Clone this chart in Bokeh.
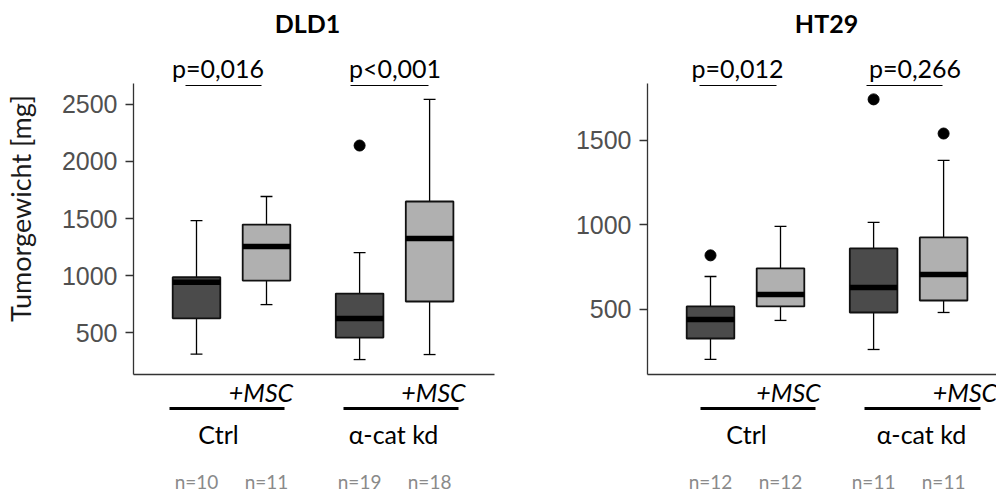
import math
from bokeh.plotting import figure
from bokeh.models import Range1d, FixedTicker, ColumnDataSource
from bokeh.core.properties import value
from bokeh.layouts import row
from bokeh.embed import file_html
from bokeh.resources import INLINE

# ---------------- data ----------------
groups = ["Ctrl", "Ctrl +MSC", "α-cat kd", "α-cat kd +MSC"]
group_names = ["Ctrl", "α-cat kd"]

dld1_lo = [310, 745, 263, 307]
dld1_q1 = [625, 956, 456, 772]
dld1_med = [940, 1254, 623, 1325]
dld1_q3 = [985, 1447, 842, 1649]
dld1_hi = [1482, 1693, 1200, 2544]
dld1_out_group = [2]
dld1_out_val = [2140]
dld1_n = [10, 11, 19, 18]
dld1_p = ["p=0,016", "p<0,001"]
dld1_ticks = [500, 1000, 1500, 2000, 2500]

ht29_lo = [204, 435, 263, 482]
ht29_q1 = [328, 518, 482, 553]
ht29_med = [441, 589, 630, 707]
ht29_q3 = [518, 743, 861, 926]
ht29_hi = [695, 991, 1015, 1382]
ht29_out_group = [0, 2, 3]
ht29_out_val = [820, 1743, 1541]
ht29_n = [12, 12, 11, 11]
ht29_p = ["p=0,012", "p=0,266"]
ht29_ticks = [500, 1000, 1500]

# ---------------- layout ----------------
positions = [1.0, 2.0, 3.33, 4.33]
fills = ["#4b4b4b", "#b0b0b0", "#4b4b4b", "#b0b0b0"]
BOX_W = 0.68
CAP_W = 0.17
UNIT_PX = 70.0
H = 497
FT, FB = 83, 374  # axis top / bottom in window px
FONT = "Lato"
X0 = 0.1
BASE_SHIFT = 0.4  # em correction for rendered alphabetic baseline


def make_panel(title, lo, q1, med, q3, hi, out_g, out_v, ns, pvals, ticks,
               ylo, yhi, canvas_left, width, axis_px, axis_end_px, lay,
               ylabel=None):
    mpp = (yhi - ylo) / (FB - FT)
    xs = X0 - (axis_px - canvas_left) / UNIT_PX
    xe = X0 + (canvas_left + width - axis_px) / UNIT_PX
    ys = ylo - (H - FB) * mpp
    ye = yhi + FT * mpp
    xd = lambda px: X0 + (px - axis_px) / UNIT_PX
    yd = lambda py: ylo + (FB - py) * mpp

    p = figure(width=width, height=H, x_range=Range1d(xs, xe),
               y_range=Range1d(ys, ye), output_backend="svg",
               toolbar_location=None, min_border=0,
               min_border_left=0, min_border_right=0,
               min_border_top=0, min_border_bottom=0)
    p.outline_line_color = None
    p.xgrid.grid_line_color = None
    p.ygrid.grid_line_color = None
    p.background_fill_color = "white"
    p.border_fill_color = "white"

    p.yaxis.fixed_location = X0
    p.yaxis.bounds = (ylo, yhi)
    p.yaxis.ticker = FixedTicker(ticks=ticks)
    p.yaxis.minor_tick_line_color = None
    p.yaxis.major_tick_in = 0
    p.yaxis.major_tick_out = 8
    p.yaxis.major_tick_line_color = "#333333"
    p.yaxis.major_tick_line_width = 1.3
    p.yaxis.axis_line_color = "#333333"
    p.yaxis.axis_line_width = 1.3
    p.yaxis.major_label_standoff = 8
    p.yaxis.major_label_text_font = "Liberation Sans"
    p.yaxis.major_label_text_font_size = "25px"
    p.yaxis.major_label_text_color = "#505050"

    p.xaxis.fixed_location = ylo
    p.xaxis.bounds = (X0, xd(axis_end_px))
    p.xaxis.ticker = FixedTicker(ticks=[])
    p.xaxis.minor_tick_line_color = None
    p.xaxis.major_tick_line_color = None
    p.xaxis.axis_line_color = "#333333"
    p.xaxis.axis_line_width = 1.3

    src = ColumnDataSource(dict(
        x=positions, lo=lo, q1=q1, med=med, q3=q3, hi=hi, fill=fills,
        left=[x - BOX_W / 2 for x in positions],
        right=[x + BOX_W / 2 for x in positions],
        cl=[x - CAP_W / 2 for x in positions],
        cr=[x + CAP_W / 2 for x in positions],
    ))
    # whiskers
    p.segment(x0="x", x1="x", y0="q3", y1="hi", source=src, line_color="black", line_width=1.3)
    p.segment(x0="x", x1="x", y0="q1", y1="lo", source=src, line_color="black", line_width=1.3)
    p.segment(x0="cl", x1="cr", y0="hi", y1="hi", source=src, line_color="black", line_width=1.3)
    p.segment(x0="cl", x1="cr", y0="lo", y1="lo", source=src, line_color="black", line_width=1.3)
    # boxes
    p.vbar(x="x", width=BOX_W, top="q3", bottom="q1", source=src,
           fill_color="fill", line_color="#111111", line_width=1.8)
    # medians
    p.segment(x0="left", x1="right", y0="med", y1="med", source=src,
              line_color="black", line_width=5.5)
    # outliers
    p.scatter(x=[positions[g] for g in out_g], y=out_v, size=11,
              fill_color="black", line_color="black")

    def txt(texts, pxs, py, size, color="black", style="normal",
            baseline="alphabetic", angle=0.0, xs_data=None):
        xv = xs_data if xs_data is not None else [xd(v) for v in pxs]
        if baseline == "alphabetic":
            py = py - BASE_SHIFT * size
        p.text(x=xv, y=[yd(py)] * len(texts), text=texts,
               text_align="center", text_baseline=baseline,
               text_font=value(FONT), text_font_size=value(f"{size}px"),
               text_color=color, text_font_style=style, angle=angle)

    def hlines(pairs, py, w):
        p.segment(x0=[xd(a) for a, b in pairs], x1=[xd(b) for a, b in pairs],
                  y0=[yd(py)] * len(pairs), y1=[yd(py)] * len(pairs),
                  line_color="black", line_width=w)

    txt([title], [lay["title"]], 32, 25, style="bold")
    txt(pvals, lay["ptext"], 77, 25)
    hlines(lay["pline"], 85, 1.2)
    txt(["+MSC", "+MSC"], lay["msc"], 401, 25, style="italic")
    hlines(lay["gline"], 408, 3)
    txt(group_names, lay["gname"], 443, 25)
    txt([f"n={n}" for n in ns], None, 489, 19, color="#8a8a8a",
        xs_data=positions)
    if ylabel:
        txt([ylabel], [20], 208, 27, color="#1a1a1a", baseline="middle",
            angle=math.pi / 2)
    return p


lay_left = dict(title=307, ptext=[217.5, 394.5], pline=[(185, 261), (350, 428)],
                msc=[260.5, 433], gline=[(169, 284), (343, 458)],
                gname=[218, 393])
lay_right = dict(title=826, ptext=[737, 914.5], pline=[(699, 776), (866, 942)],
                 msc=[788, 964.5], gline=[(700, 815), (864, 980)],
                 gname=[746, 921])

p1 = make_panel("DLD1", dld1_lo, dld1_q1, dld1_med, dld1_q3, dld1_hi,
                dld1_out_group, dld1_out_val, dld1_n, dld1_p, dld1_ticks,
                132, 2684, 0, 560, 133, 494, lay_left,
                ylabel="Tumorgewicht [mg]")
p2 = make_panel("HT29", ht29_lo, ht29_q1, ht29_med, ht29_q3, ht29_hi,
                ht29_out_group, ht29_out_val, ht29_n, ht29_p, ht29_ticks,
                115, 1837, 560, 436, 647, 996, lay_right)

layout = row(p1, p2)
open("out.html", "w").write(file_html(layout, INLINE))
